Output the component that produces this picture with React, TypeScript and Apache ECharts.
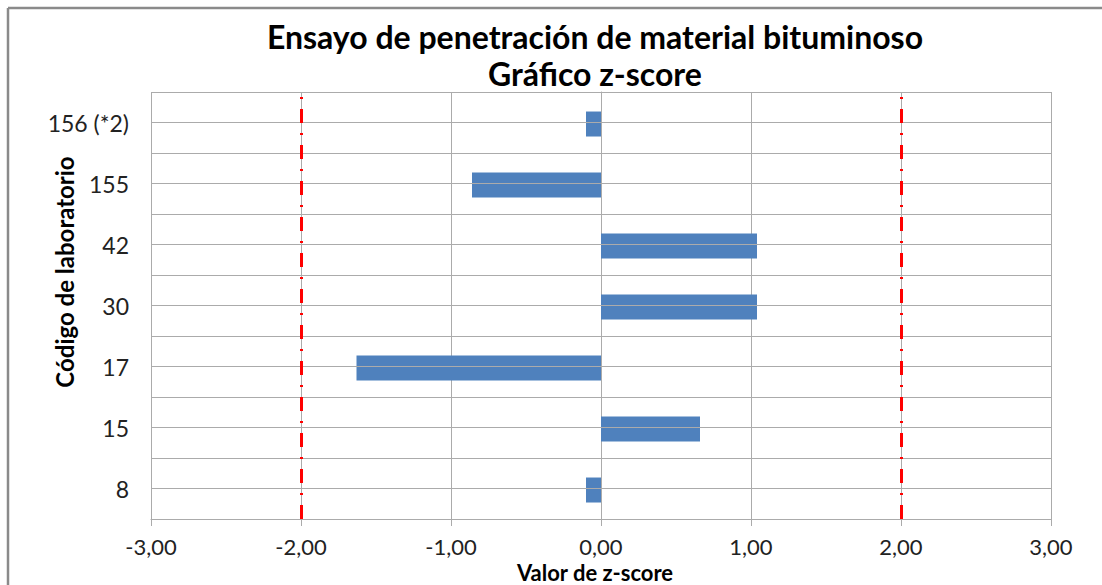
import React, { useEffect, useRef } from "react";
import * as echarts from "echarts";

const categories = ["8", "15", "17", "30", "42", "155", "156 (*2)"];
const zScores = [-0.1, 0.66, -1.63, 1.04, 1.04, -0.86, -0.1];
const limitValues = [-2, 2];
const xMin = -3;
const xMax = 3;
const xStep = 1;
const titleLines = ["Ensayo de penetración de material bituminoso", "Gráfico z-score"];
const xName = "Valor de z-score";
const yName = "Código de laboratorio";

const FONT = "Lato, 'Open Sans', sans-serif";
const GRID = "#ababab";

export default function App() {
  const ref = useRef<HTMLDivElement>(null);
  useEffect(() => {
    document.body.style.margin = "0";
    const chart = echarts.init(ref.current!, null, { renderer: "svg" });
    chart.setOption({
      animation: false,
      backgroundColor: "#ffffff",
      title: {
        text: titleLines.join("\n"),
        left: 590,
        top: 13,
        textAlign: "center",
        textStyle: { fontFamily: FONT, fontSize: 32, fontWeight: "bold", color: "#000", lineHeight: 37 },
      },
      grid: { left: 151, right: 51, top: 92, bottom: 66, containLabel: false, outerBoundsMode: "none" },
      xAxis: {
        type: "value",
        min: xMin,
        max: xMax,
        interval: xStep,
        name: xName,
        nameLocation: "middle",
        nameGap: 41,
        nameMoveOverlap: false,
        nameTextStyle: {
          fontFamily: FONT,
          fontSize: 22,
          lineHeight: 24,
          fontWeight: "bold",
          color: "#000",
          padding: [0, 12, 0, 0],
        },
        axisLine: { show: true, lineStyle: { color: GRID, width: 1 } },
        axisTick: { show: true, length: 7, lineStyle: { color: GRID } },
        axisLabel: {
          fontFamily: FONT,
          fontSize: 22,
          lineHeight: 22,
          color: "#222",
          margin: 16,
          formatter: (v: number) => v.toFixed(2).replace(".", ","),
        },
        splitLine: { show: true, lineStyle: { color: GRID, width: 1 } },
      },
      yAxis: {
        type: "category",
        data: categories,
        axisLine: { show: true, lineStyle: { color: GRID, width: 1 } },
        axisTick: { show: true, length: 7, lineStyle: { color: GRID } },
        axisLabel: { fontFamily: FONT, fontSize: 23, color: "#222", margin: 22 },
        splitLine: { show: true, lineStyle: { color: GRID, width: 1 } },
      },
      graphic: [
        { type: "line", shape: { x1: 8, y1: 8, x2: 8, y2: 585 }, style: { stroke: "#8a8a8a", lineWidth: 2.5 } },
        { type: "line", shape: { x1: 8, y1: 8, x2: 1102, y2: 8 }, style: { stroke: "#8a8a8a", lineWidth: 2.5 } },
        {
          type: "text",
          x: 64,
          y: 272,
          rotation: Math.PI / 2,
          style: {
            text: yName,
            fontFamily: FONT,
            fontSize: 24,
            fontWeight: "bold",
            fill: "#000",
            textAlign: "center",
            textVerticalAlign: "middle",
          },
        },
      ],
      series: [
        {
          type: "bar",
          data: [],
          z: 1,
          silent: true,
          markLine: {
            silent: true,
            symbol: "none",
            label: { show: false },
            lineStyle: { color: GRID, width: 1, type: "solid" },
            data: categories.map((c) => ({ yAxis: c })),
          },
        },
        {
          type: "bar",
          data: zScores,
          barWidth: 25,
          z: 2,
          barGap: "-100%",
          itemStyle: { color: "#4F81BD" },
        },
        {
          type: "bar",
          data: [],
          z: 3,
          silent: true,
          markLine: {
            silent: true,
            symbol: "none",
            label: { show: false },
            lineStyle: { color: "#FF0000", width: 3, type: [14, 10, 2, 10] },
            data: limitValues.map((v) => ({ xAxis: v })),
          },
        },
      ],
    });
    return () => chart.dispose();
  }, []);
  return <div ref={ref} style={{ width: 1102, height: 585 }} />;
}
